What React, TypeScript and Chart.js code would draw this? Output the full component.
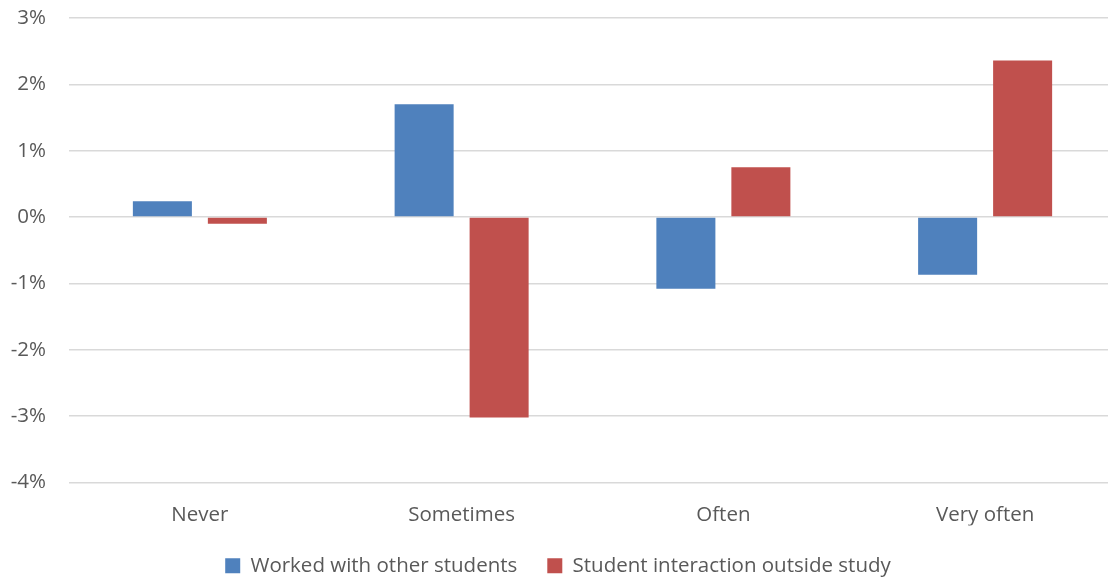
import React, { useEffect, useRef } from "react";
import { Chart, registerables } from "chart.js";

Chart.register(...registerables);

const categories = ["Never", "Sometimes", "Often", "Very often"];
const workedWithOthers = [0.24, 1.7, -1.08, -0.87];
const interactionOutside = [-0.1, -3.02, 0.75, 2.36];
const seriesNames = ["Worked with other students", "Student interaction outside study"];
const yMin = -4;
const yMax = 3;

const FONT = "'Open Sans', 'Liberation Sans', sans-serif";
const TEXT = "#595959";
const FS = 20.5;

export default function App() {
  const ref = useRef<HTMLCanvasElement | null>(null);

  useEffect(() => {
    if (!ref.current) return;
    const chart = new Chart(ref.current, {
      type: "bar",
      data: {
        labels: categories,
        datasets: [
          {
            label: seriesNames[0],
            data: workedWithOthers,
            backgroundColor: "#4f81bd",
            barPercentage: 0.787,
            categoryPercentage: 0.573,
          },
          {
            label: seriesNames[1],
            data: interactionOutside,
            backgroundColor: "#c0504d",
            barPercentage: 0.787,
            categoryPercentage: 0.573,
          },
        ],
      },
      options: {
        responsive: false,
        animation: false,
        layout: { padding: { top: 18, right: 4, left: 0, bottom: -6 } },
        plugins: {
          tooltip: { enabled: false },
          legend: {
            position: "bottom",
            labels: {
              boxWidth: 15,
              boxHeight: 15,
              padding: 30,
              color: TEXT,
              font: { family: FONT, size: FS },
            },
          },
        },
        scales: {
          x: {
            grid: { display: false },
            border: { display: false },
            ticks: { color: TEXT, font: { family: FONT, size: FS }, padding: 12 },
            afterFit: (s: any) => {
              s.height = 43;
              s.paddingLeft = 0;
              s.paddingRight = 0;
            },
          },
          y: {
            min: yMin,
            max: yMax,
            grid: { color: "#d9d9d9", lineWidth: 1.5, drawTicks: false },
            border: { display: false },
            ticks: {
              stepSize: 1,
              color: TEXT,
              padding: 23,
              font: { family: FONT, size: FS },
              callback: (v: any) => `${v}%`,
            },
            afterFit: (s: any) => {
              s.width = 69;
              s.paddingTop = 0;
              s.paddingBottom = 0;
            },
          },
        },
      },
    });
    return () => chart.destroy();
  }, []);

  return (
    <div
      style={{
        position: "absolute",
        left: 0,
        top: 0,
        width: 1108,
        height: 580,
        overflow: "hidden",
        background: "#fff",
      }}
    >
      <canvas ref={ref} width={1120} height={580} style={{ display: "block" }} />
    </div>
  );
}
